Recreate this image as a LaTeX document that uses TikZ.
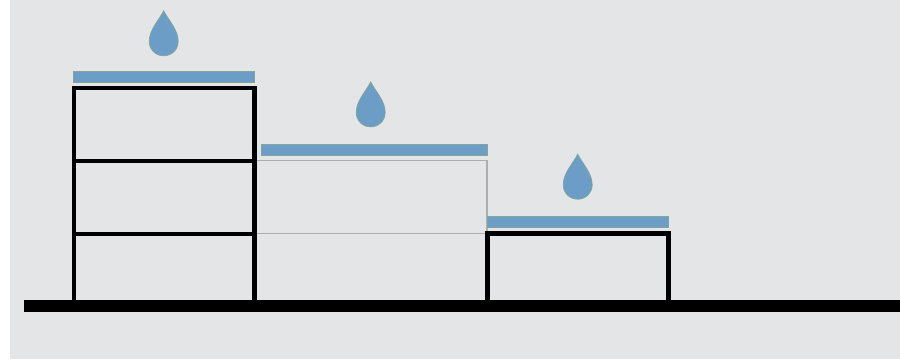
\documentclass[tikz,border=0pt]{standalone}
\usepackage{xcolor}
\definecolor{wallbg}{HTML}{E4E5E7}
\definecolor{waterblue}{HTML}{6C9DC6}
\definecolor{wateredge}{HTML}{7FA69A}
\tikzset{
  backdrop/.style ={fill=wallbg, draw=none},
  soil/.style     ={fill=black, draw=none},
  frame/.style    ={draw=black, line width=4.4pt, miter limit=10},         % built storey
  slab/.style     ={draw=black, line width=4.2pt},
  ghostline/.style={draw=black!32, line width=1.1pt},                      % removed storeys
  roofbar/.style  ={fill=waterblue, draw=wateredge, line width=0.7pt},
  raindrop/.pic   ={
    \path[fill=waterblue, draw=wateredge, line width=0.7pt]
      (0,0) .. controls (-4.8,9.5) and (-14.5,19) .. (-14.5,30.5)
      .. controls (-14.5,38.8) and (-8,45) .. (0,45)
      .. controls (8,45) and (14.5,38.8) .. (14.5,30.5)
      .. controls (14.5,19) and (4.8,9.5) .. (0,0) -- cycle;
  },
}

\begin{document}
\begin{tikzpicture}[x=1pt, y=-1pt]
  \useasboundingbox (0,0) rectangle (900,359);
  \fill[backdrop] (9.5,0) rectangle (900,358.5);
  % storeys in the middle, only outlined
  \draw[ghostline] (254.5,160.7) -- (487,160.7) -- (487,233.4);
  \draw[ghostline] (254.5,233.4) -- (487,233.4);
  % tall block
  \draw[frame] (73.7,300) -- (73.7,88) -- (254.6,88) -- (254.6,300);
  \draw[slab] (73.7,160.8) -- (254.6,160.8);
  \draw[slab] (73.7,233.6) -- (254.6,233.6);
  % low block
  \draw[frame] (487.4,300) -- (487.4,233.3) -- (668.3,233.3) -- (668.3,300);
  \fill[soil] (24,299.5) rectangle (900,312.3);
  % roofs
  \draw[roofbar] (73,71.8) rectangle (254.8,82.8);
  \draw[roofbar] (261,144.6) rectangle (487.6,155.6);
  \draw[roofbar] (487,216.2) rectangle (668.5,227);
  % drops
  \pic at (163.7,10.8) {raindrop};
  \pic at (370.7,81.9) {raindrop};
  \pic at (577.7,154.2) {raindrop};
\end{tikzpicture}
\end{document}
